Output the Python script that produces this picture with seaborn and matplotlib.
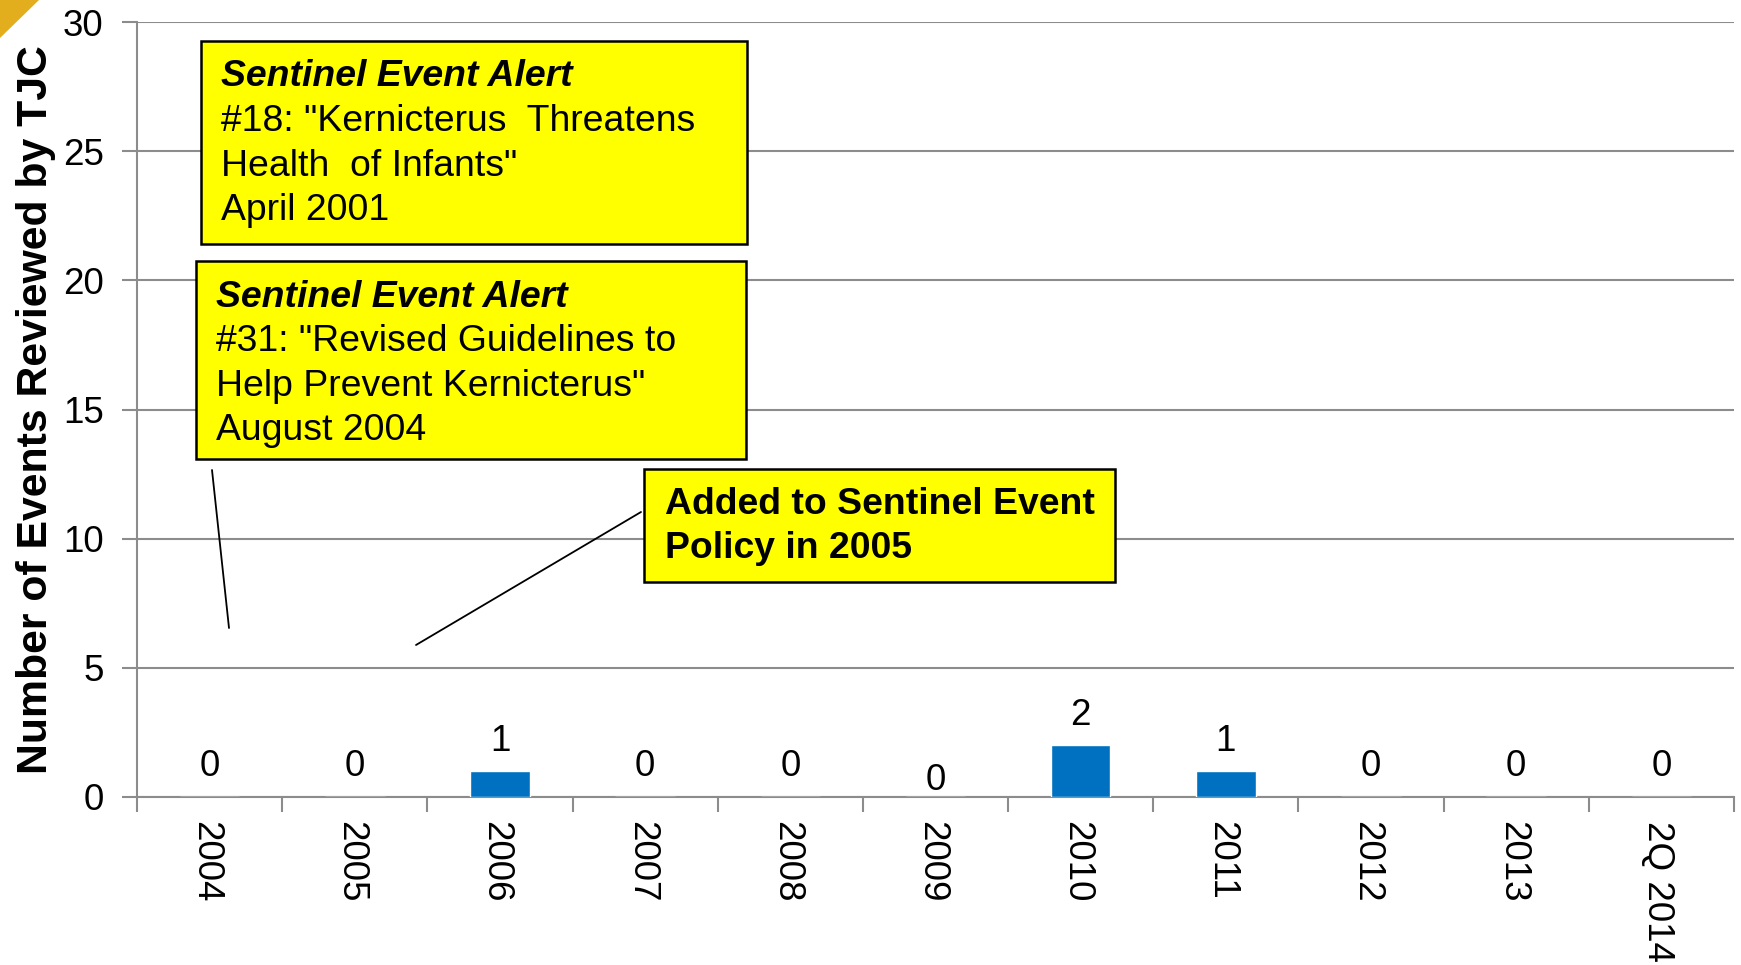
import numpy as np
import pandas as pd
import seaborn as sns
import matplotlib.pyplot as plt
from matplotlib.patches import Rectangle, Polygon
from matplotlib.lines import Line2D
from matplotlib.transforms import ScaledTranslation

# data
years = ['2004', '2005', '2006', '2007', '2008', '2009',
         '2010', '2011', '2012', '2013', '2Q 2014']
counts = [0, 0, 1, 0, 0, 0, 2, 1, 0, 0, 0]

W, H = 1741, 965
df = pd.DataFrame({'year': years, 'count': counts})

sns.set_style('white')
plt.rcParams['font.family'] = ['Liberation Sans', 'DejaVu Sans']
plt.rcParams['text.color'] = 'black'
plt.rcParams['axes.labelcolor'] = 'black'
plt.rcParams['xtick.labelcolor'] = 'black'
plt.rcParams['ytick.labelcolor'] = 'black'

fig = plt.figure(figsize=(W / 100, H / 100), dpi=100)
ax = fig.add_axes([137 / W, 1 - 797 / H, (1734 - 137) / W, (797 - 22) / H])


def fx(x):
    return x / W


def fy(y):
    return 1 - y / H


grid_c = '#8c8c8c'
sns.barplot(data=df, x='year', y='count', color='#0070C0', saturation=1,
            width=0.41, ax=ax, zorder=3)

ax.set_ylim(0, 30)
ax.set_xlim(-0.5, len(years) - 0.5)
ax.set_yticks(range(0, 31, 5))
ax.yaxis.grid(True, color=grid_c, lw=1.5, zorder=0)
ax.tick_params(axis='y', labelsize=26.5, length=11, width=1.5, color=grid_c, pad=13, left=True)
ax.tick_params(axis='x', which='major', labelsize=26.5, length=0, pad=17, labelrotation=-90)
ax.set_xticks(np.arange(-0.5, len(years), 1), minor=True)
ax.tick_params(axis='x', which='minor', length=11, width=1.5, color=grid_c, bottom=True)
shift = ScaledTranslation(-4 / 100, 0, fig.dpi_scale_trans)
for lab in ax.get_xticklabels():
    lab.set_va('top')
    lab.set_ha('center')
    lab.set_transform(lab.get_transform() + shift)
for s in ['top', 'right']:
    ax.spines[s].set_visible(False)
for s in ['left', 'bottom']:
    ax.spines[s].set_color(grid_c)
    ax.spines[s].set_linewidth(1.5)
ax.set_xlabel('')
ax.set_ylabel('Number of Events Reviewed by TJC', fontsize=30.8, fontweight='bold', labelpad=5)

# value labels
labels = ax.bar_label(ax.containers[0], fontsize=26.5, padding=9)
labels[5].set_y(-1)  # 2009 label sits lower in the original

# gold corner
fig.add_artist(Polygon([[0, 1], [fx(39), 1], [0, fy(38)]], closed=True,
                       transform=fig.transFigure, color='#E2AE1E', lw=0))

# annotation boxes
def box(x0, y0, x1, y1):
    fig.add_artist(Rectangle((fx(x0), fy(y1)), fx(x1 - x0), (y1 - y0) / H,
                             transform=fig.transFigure, facecolor='#FFFF00',
                             edgecolor='black', lw=1.8, zorder=5))


box(201, 41, 747, 244)
box(196, 261, 746, 459)
box(644, 469, 1115, 582)

fs = 26.9
lines1 = [('Sentinel Event Alert', 'bold', 'italic'),
          ('#18: "Kernicterus  Threatens', 'normal', 'normal'),
          ('Health  of Infants"', 'normal', 'normal'),
          ('April 2001', 'normal', 'normal')]
lines2 = [('Sentinel Event Alert', 'bold', 'italic'),
          ('#31: "Revised Guidelines to', 'normal', 'normal'),
          ('Help Prevent Kernicterus"', 'normal', 'normal'),
          ('August 2004', 'normal', 'normal')]
lines3 = [('Added to Sentinel Event', 'bold', 'normal'),
          ('Policy in 2005', 'bold', 'normal')]

for lines, x, y in [(lines1, 221, 77), (lines2, 216, 297), (lines3, 665, 504)]:
    for i, (t, w, st) in enumerate(lines):
        fig.text(fx(x), fy(y + i * 44.5), t, fontsize=fs, fontweight=w, fontstyle=st,
                 va='center', ha='left', zorder=6)

# connector lines
fig.add_artist(Line2D([fx(212), fx(229)], [fy(470), fy(628)], transform=fig.transFigure,
                      color='black', lw=1.3))
fig.add_artist(Line2D([fx(641), fx(416)], [fy(512), fy(645)], transform=fig.transFigure,
                      color='black', lw=1.3))

fig.savefig('out.png', dpi=100)
